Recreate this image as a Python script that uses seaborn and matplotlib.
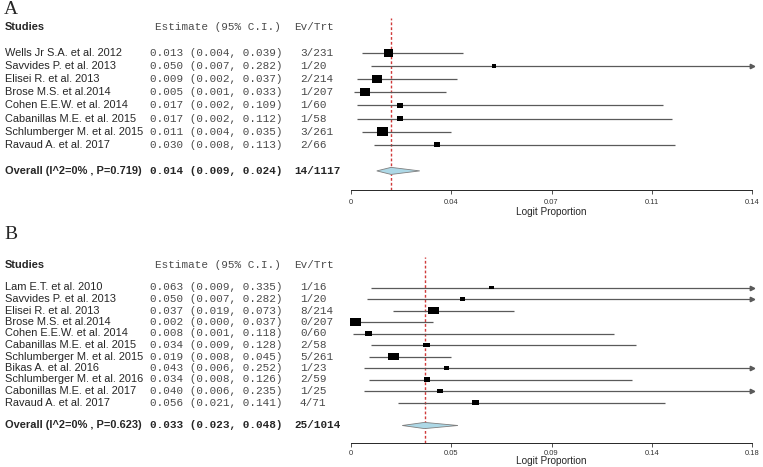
import matplotlib
matplotlib.use("Agg")  # no display in the sandbox
import matplotlib.pyplot as plt
import matplotlib.transforms as mtrans
import seaborn as sns
import pandas as pd
import numpy as np

sns.set_style("white")
plt.rcParams["font.family"] = ["Liberation Sans", "DejaVu Sans"]

W, H = 763, 467

# ---------------- panel A ----------------
a_studies = ["Wells Jr S.A. et al. 2012", "Savvides P. et al. 2013", "Elisei R. et al. 2013",
             "Brose M.S. et al.2014", "Cohen E.E.W. et al. 2014", "Cabanillas M.E. et al. 2015",
             "Schlumberger M. et al. 2015", "Ravaud A. et al. 2017"]
a_est = [0.013, 0.050, 0.009, 0.005, 0.017, 0.017, 0.011, 0.030]
a_lo = [0.004, 0.007, 0.002, 0.001, 0.002, 0.002, 0.004, 0.008]
a_hi = [0.039, 0.282, 0.037, 0.033, 0.109, 0.112, 0.035, 0.113]
a_ev = ["3/231", "1/20", "2/214", "1/207", "1/60", "1/58", "3/261", "2/66"]
a_weight = [17.8, 3.4, 17.8, 20.1, 7.0, 7.0, 20.1, 7.0]
a_overall = "Overall (I^2=0% , P=0.719)"
a_pooled = [0.014, 0.009, 0.024]
a_total = "14/1117"
a_xmax = 0.14
a_ticks = ["0", "0.04", "0.07", "0.11", "0.14"]

# ---------------- panel B ----------------
b_studies = ["Lam E.T. et al. 2010", "Savvides P. et al. 2013", "Elisei R. et al. 2013",
             "Brose M.S. et al.2014", "Cohen E.E.W. et al. 2014", "Cabanillas M.E. et al. 2015",
             "Schlumberger M. et al. 2015", "Bikas A. et al. 2016", "Schlumberger M. et al. 2016",
             "Cabonillas M.E. et al. 2017", "Ravaud A. et al. 2017"]
b_est = [0.063, 0.050, 0.037, 0.002, 0.008, 0.034, 0.019, 0.043, 0.034, 0.040, 0.056]
b_lo = [0.009, 0.007, 0.019, 0.000, 0.001, 0.009, 0.008, 0.006, 0.008, 0.006, 0.021]
b_hi = [0.335, 0.282, 0.073, 0.037, 0.118, 0.128, 0.045, 0.252, 0.126, 0.235, 0.141]
b_ev = ["1/16", "1/20", "8/214", "0/207", "0/60", "2/58", "5/261", "1/23", "2/59", "1/25", "4/71"]
b_weight = [3.0, 4.0, 15.8, 20.0, 7.4, 7.4, 20.0, 4.0, 6.2, 4.9, 7.4]
b_overall = "Overall (I^2=0% , P=0.623)"
b_pooled = [0.033, 0.023, 0.048]
b_total = "25/1014"
b_xmax = 0.18
b_ticks = ["0", "0.05", "0.09", "0.14", "0.18"]

NAME_FS = 7.9
MONO_FS = 7.9
MONO = ["Liberation Mono", "DejaVu Sans Mono"]
LINE_C = "#5a5a5a"
TEXT_C = "#4a4a4a"


def fx(px):
    return px / W


def fy(py):
    return 1 - py / H


def draw_panel(fig, letter, letter_y, studies, est, lo, hi, ev, weight,
               overall, pooled, total, xmax, ticks,
               row0, step, top, bottom, aspect, smax, tick_pad, label_pad):
    n = len(studies)
    rows = np.arange(n)
    over_row = n + 1
    est, lo, hi = map(np.asarray, (est, lo, hi))

    ax = fig.add_axes([fx(351), fy(bottom), fx(752) - fx(351), (bottom - top) / H])
    ax.patch.set_alpha(0)
    ax.set_xlim(0, xmax)
    ax.set_ylim((bottom - row0) / step, (top - row0) / step)

    ax.axvline(pooled[0], color="#d03a3a", ls=(0, (2, 1.5)), lw=1.0, zorder=1)

    # confidence intervals, clipped at the axis end with an arrow
    ax.hlines(rows, lo, np.minimum(hi, xmax), color=LINE_C, lw=0.9, zorder=2)
    over = hi > xmax
    ax.plot(np.full(over.sum(), xmax), rows[over], marker=">", ls="none", ms=3.2,
            color=LINE_C, clip_on=False, zorder=2)

    df = pd.DataFrame({"est": est, "row": rows, "w": weight})
    verts = [(-1, -1 / aspect), (1, -1 / aspect), (1, 1 / aspect), (-1, 1 / aspect)]
    sns.scatterplot(data=df, x="est", y="row", size="w", sizes=(0, smax), size_norm=(0, 100),
                    marker=verts, color="black", edgecolor="none", linewidth=0,
                    legend=False, ax=ax, clip_on=False, zorder=3)

    hh = 0.27
    ax.fill([pooled[1], pooled[0], pooled[2], pooled[0]],
            [over_row, over_row - hh, over_row, over_row + hh],
            fc="#add8e6", ec="#7f7f7f", lw=0.6, zorder=3)

    for s in ["left", "top", "right"]:
        ax.spines[s].set_visible(False)
    ax.spines["bottom"].set_linewidth(0.7)
    ax.set_yticks([])
    ax.set_xticks(np.linspace(0, xmax, len(ticks)))
    ax.set_xticklabels(ticks)
    ax.tick_params(axis="x", bottom=True, length=3, width=0.6, labelsize=5.4, pad=tick_pad,
                   colors="#333333")
    ax.set_xlabel("Logit Proportion", fontsize=7.2, labelpad=label_pad)
    ax.set_ylabel("")

    tr = mtrans.blended_transform_factory(fig.transFigure, ax.transData)
    fig.text(fx(4), fy(letter_y), letter, family=["Liberation Serif", "DejaVu Serif"],
             fontsize=14, va="center")
    ax.text(fx(5), -2, "Studies", transform=tr, fontsize=NAME_FS, fontweight="bold", va="center")
    ax.text(fx(281), -2, "Estimate (95% C.I.)", transform=tr, family=MONO, fontsize=MONO_FS,
            color=TEXT_C, ha="right", va="center")
    ax.text(fx(294), -2, "Ev/Trt", transform=tr, family=MONO, fontsize=MONO_FS,
            color=TEXT_C, va="center")
    for r, name, e, l, h, evt in zip(rows, studies, est, lo, hi, ev):
        ax.text(fx(5), r, name, transform=tr, fontsize=NAME_FS, va="center")
        ax.text(fx(150), r, f"{e:.3f} ({l:.3f}, {h:.3f})", transform=tr, family=MONO,
                fontsize=MONO_FS, color=TEXT_C, va="center")
        ax.text(fx(300), r, evt, transform=tr, family=MONO, fontsize=MONO_FS,
                color=TEXT_C, va="center")
    ax.text(fx(5), over_row, overall, transform=tr, fontsize=NAME_FS, fontweight="bold",
            va="center")
    ax.text(fx(150), over_row, f"{pooled[0]:.3f} ({pooled[1]:.3f}, {pooled[2]:.3f})",
            transform=tr, family=MONO, fontsize=MONO_FS, fontweight="bold", va="center")
    ax.text(fx(294), over_row, total, transform=tr, family=MONO, fontsize=MONO_FS,
            fontweight="bold", va="center")
    return ax


fig = plt.figure(figsize=(W / 100, H / 100), dpi=100)
fig.patch.set_facecolor("white")

draw_panel(fig, "A", 9, a_studies, a_est, a_lo, a_hi, a_ev, a_weight,
           a_overall, a_pooled, a_total, a_xmax, a_ticks,
           row0=53, step=13.1, top=18, bottom=190, aspect=1.2, smax=260,
           tick_pad=3.5, label_pad=1)
draw_panel(fig, "B", 234.5, b_studies, b_est, b_lo, b_hi, b_ev, b_weight,
           b_overall, b_pooled, b_total, b_xmax, b_ticks,
           row0=287.5, step=11.5, top=257.3, bottom=442.7, aspect=1.5, smax=350,
           tick_pad=2.2, label_pad=-0.5)

fig.savefig("out.png", dpi=100)
